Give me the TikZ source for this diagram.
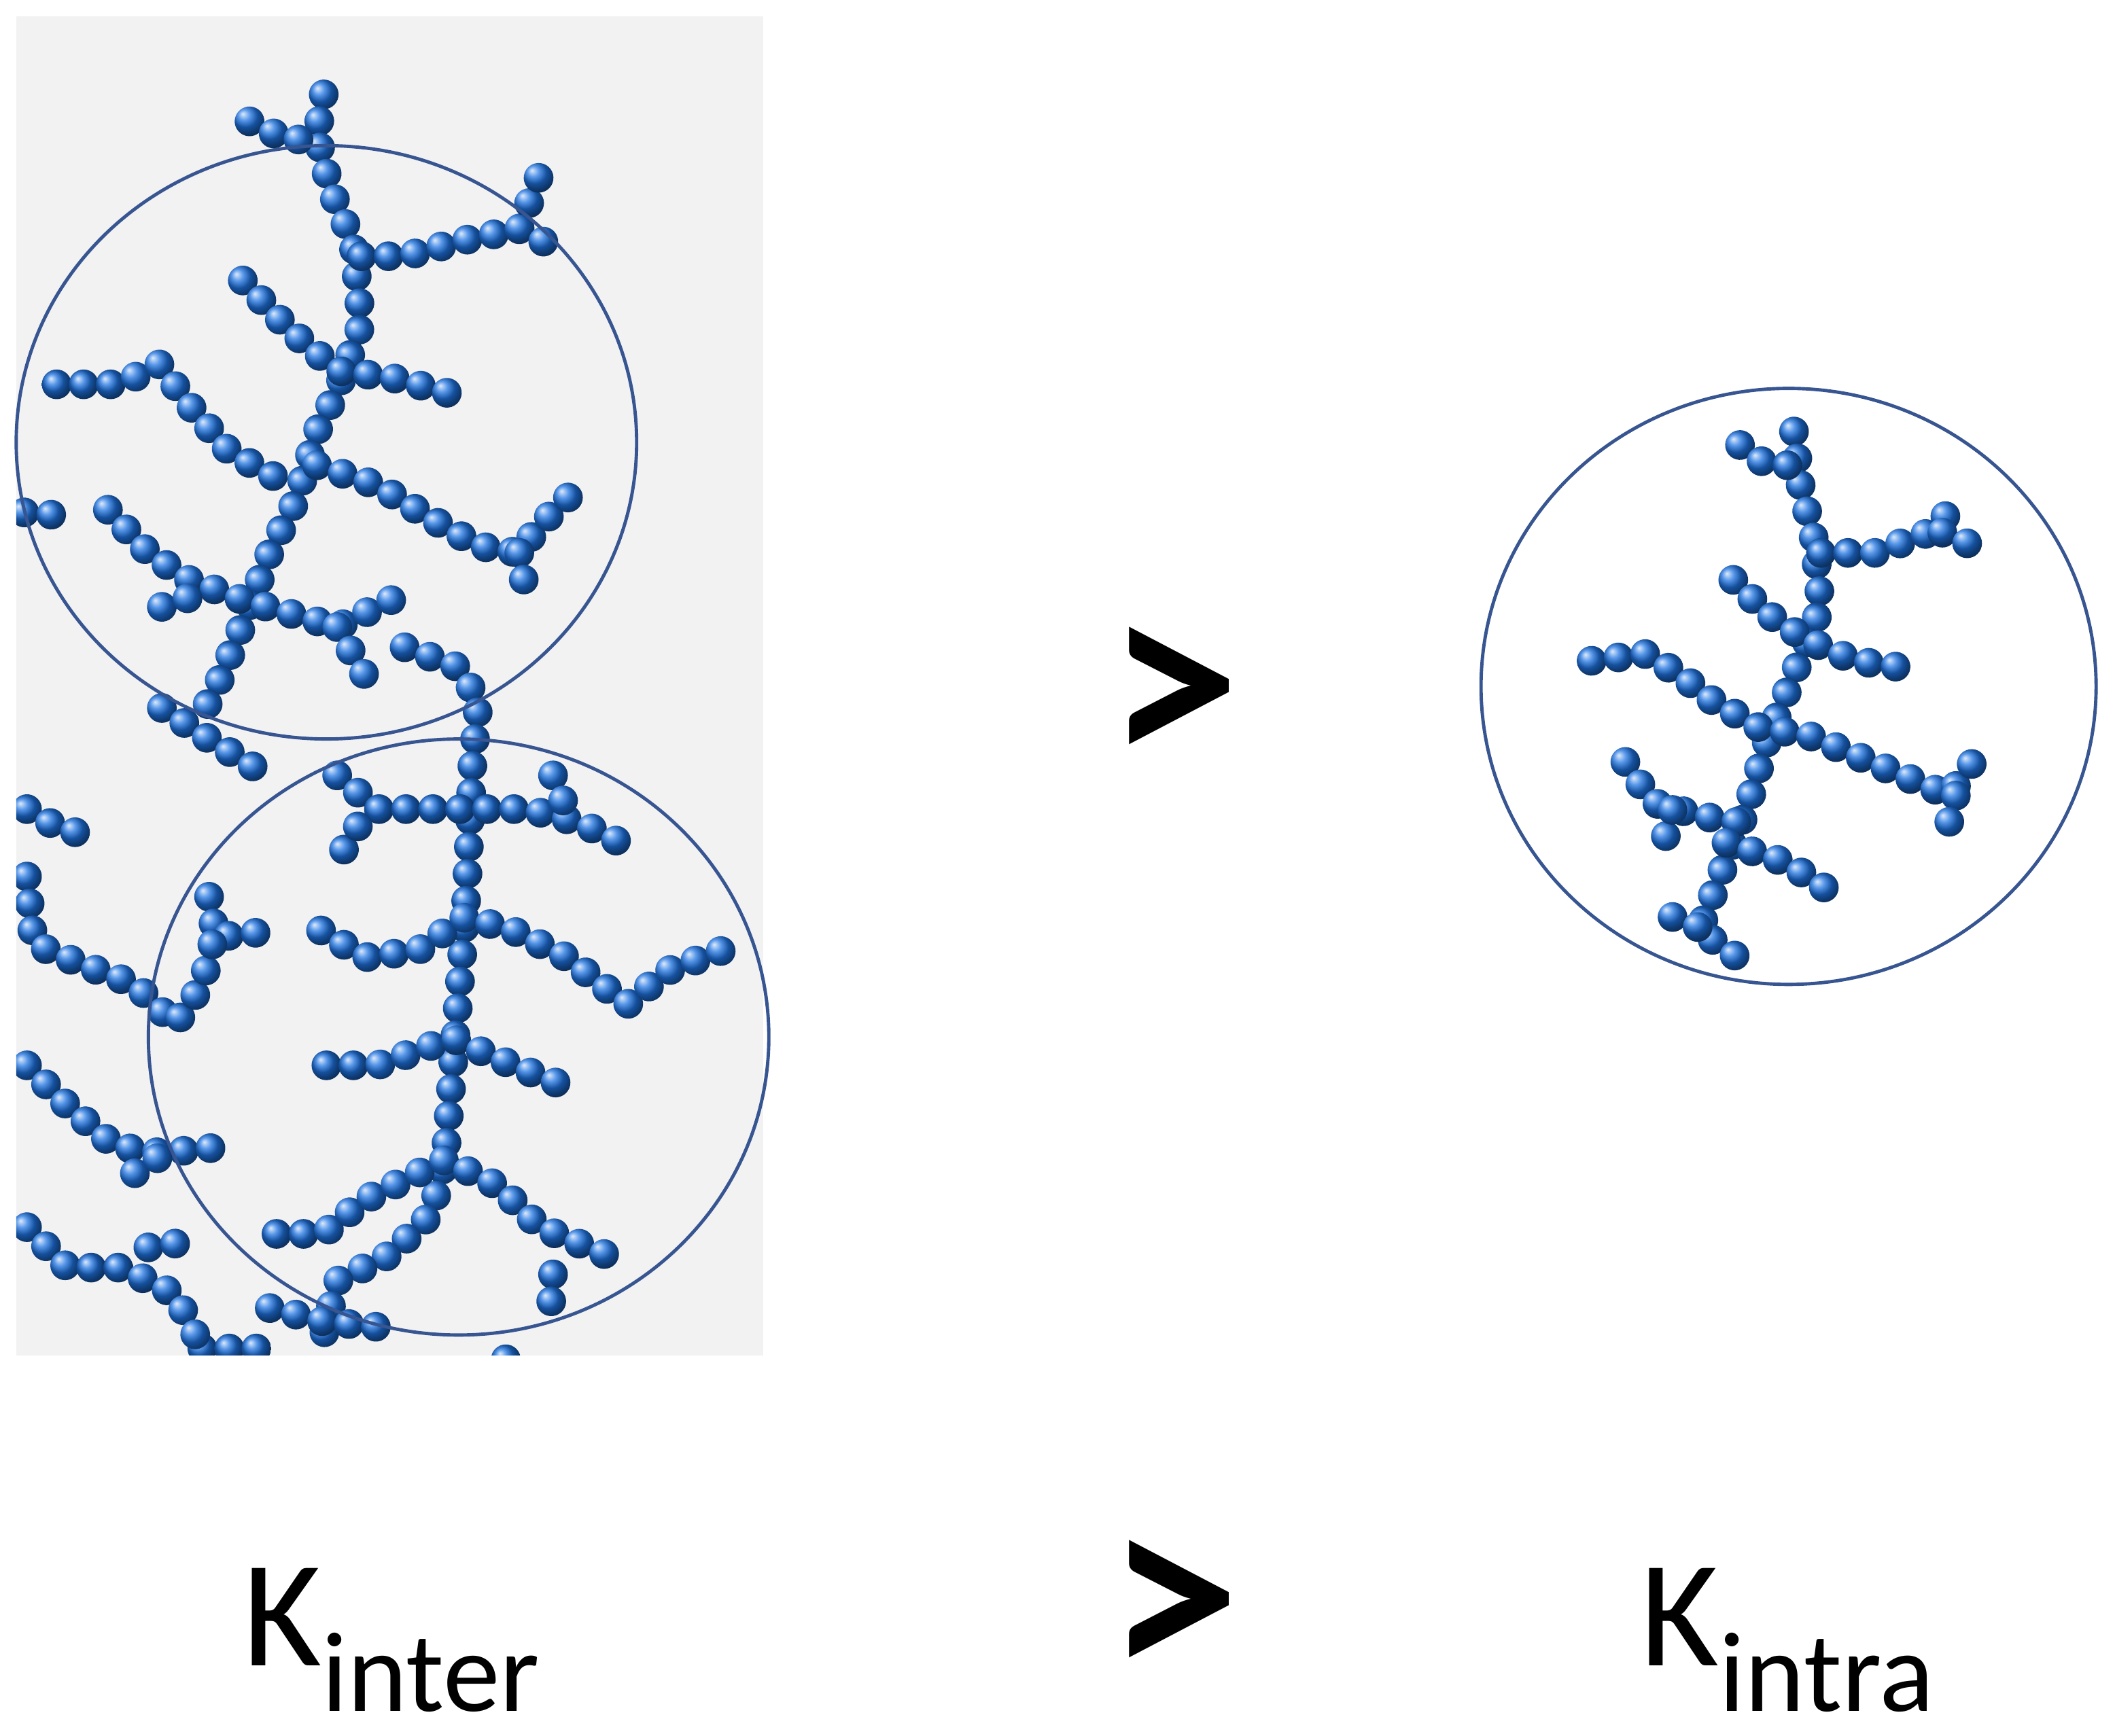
\documentclass[tikz,border=0pt]{standalone}
\usepackage{fontspec}
\setmainfont{Carlito}
\usetikzlibrary{decorations.markings}
\definecolor{beadblue}{RGB}{30,115,225}
\definecolor{ringcol}{RGB}{55,85,145}
\definecolor{panel}{RGB}{242,242,242}
\tikzset{
 beadchain/.style={postaction={decorate,decoration={markings,
   mark=between positions 0 and 1 step 0.2cm with {\shade[ball color=beadblue] (0,0) circle (0.11cm);}}}},
 ring/.style={draw=ringcol,line width=0.7pt},
 bigtxt/.style={font=\fontsize{32}{32}\selectfont,inner sep=0pt},
 gt/.style={font=\fontsize{56}{56}\selectfont\bfseries,inner sep=0pt}
}
\newcommand{\Ksub}[1]{K\raisebox{-0.3em}{\fontsize{24}{24}\selectfont #1}}
\begin{document}
\begin{tikzpicture}[x=0.01cm,y=-0.01cm]
\useasboundingbox (0,0) rectangle (1568,1287);
\fill[panel] (12,12) rectangle (566,1005);
\begin{scope}
\clip (12,12) rectangle (566,1005);
% tree 1
\path[beadchain] (240,70) -- (235,100) -- (245,140) -- (262,180) -- (268,240) -- (250,290) -- (235,320) -- (220,370) -- (200,410) -- (185,450) -- (165,500) -- (150,530);
\path[beadchain] (185,90) -- (215,105) -- (235,100);
\path[beadchain] (268,190) -- (300,190) -- (345,178) -- (385,170) -- (400,130);
\path[beadchain] (385,170) -- (420,188);
\path[beadchain] (180,208) -- (215,245) -- (250,275) -- (290,280) -- (345,295);
\path[beadchain] (42,285) -- (90,285) -- (118,270) -- (140,300) -- (170,335) -- (215,360);
\path[beadchain] (235,345) -- (280,360) -- (320,385) -- (355,405) -- (385,410) -- (400,390) -- (425,365);
\path[beadchain] (385,410) -- (390,440);
\path[beadchain] (80,378) -- (110,410) -- (140,430) -- (180,445) -- (215,455) -- (250,465) -- (290,445);
\path[beadchain] (250,465) -- (270,500);
\path[beadchain] (120,450) -- (150,440);
\path[beadchain] (18,380) -- (42,382);
\path[beadchain] (120,525) -- (150,545) -- (190,570);
% tree 2
\path[beadchain] (300,480) -- (340,495) -- (355,520) -- (350,570) -- (348,620) -- (345,680) -- (340,740) -- (335,800) -- (330,860) -- (320,900) -- (290,930) -- (250,950) -- (240,990);
\path[beadchain] (250,575) -- (280,600) -- (348,600) -- (390,600) -- (430,610) -- (470,630);
\path[beadchain] (410,575) -- (420,600);
\path[beadchain] (255,630) -- (270,605);
\path[beadchain] (155,665) -- (160,695) -- (205,690);
\path[beadchain] (238,690) -- (270,710) -- (310,705) -- (345,680) -- (380,690) -- (420,710) -- (465,745) -- (495,720) -- (535,705);
\path[beadchain] (242,790) -- (280,790) -- (335,770) -- (380,790) -- (430,810);
\path[beadchain] (205,915) -- (240,915) -- (270,890) -- (330,860) -- (370,880) -- (400,910) -- (460,935);
\path[beadchain] (410,945) -- (408,975);
\path[beadchain] (200,970) -- (240,980) -- (290,985);
\path[beadchain] (150,1000) -- (200,1000);
\path[beadchain] (375,1008) -- (395,1008);
% left fragments
\path[beadchain] (20,600) -- (45,615) -- (70,620);
\path[beadchain] (20,650) -- (25,700) -- (60,715) -- (100,730) -- (130,760) -- (150,730) -- (160,690);
\path[beadchain] (20,790) -- (50,820) -- (85,850) -- (120,855) -- (170,850);
\path[beadchain] (100,870) -- (130,850);
\path[beadchain] (20,910) -- (50,940) -- (90,940) -- (130,960) -- (150,1000);
\path[beadchain] (110,925) -- (145,920);
\end{scope}
% tree 3
\path[beadchain] (1330,320) -- (1335,360) -- (1345,400) -- (1350,450) -- (1330,500) -- (1310,550) -- (1295,600) -- (1275,650) -- (1260,690) -- (1295,715);
\path[beadchain] (1290,330) -- (1310,345) -- (1330,345);
\path[beadchain] (1350,410) -- (1390,410) -- (1430,395) -- (1455,370);
\path[beadchain] (1440,395) -- (1475,410);
\path[beadchain] (1285,430) -- (1310,455) -- (1340,475) -- (1375,490) -- (1410,495);
\path[beadchain] (1180,490) -- (1220,485) -- (1245,500) -- (1270,520) -- (1305,540) -- (1340,545) -- (1375,560) -- (1410,575) -- (1445,590) -- (1470,555);
\path[beadchain] (1450,590) -- (1445,610);
\path[beadchain] (1205,565) -- (1225,595) -- (1260,605) -- (1290,610);
\path[beadchain] (1235,620) -- (1240,600);
\path[beadchain] (1280,625) -- (1325,640) -- (1355,660);
\path[beadchain] (1240,680) -- (1265,690);
% rings
\draw[ring] (242,328) ellipse [x radius=230, y radius=220];
\draw[ring] (340,769) ellipse [x radius=230, y radius=221];
\draw[ring] (1326,509) ellipse [x radius=228, y radius=221];
% texts
\node[gt] (g1) at (870,518) {>};
\node[gt] (g2) at (870,1195) {>};
\node[bigtxt,anchor=base] (ki) at (290,1235) {\Ksub{inter}};
\node[bigtxt,anchor=base] (ka) at (1325,1235) {\Ksub{intra}};
\end{tikzpicture}
\end{document}
